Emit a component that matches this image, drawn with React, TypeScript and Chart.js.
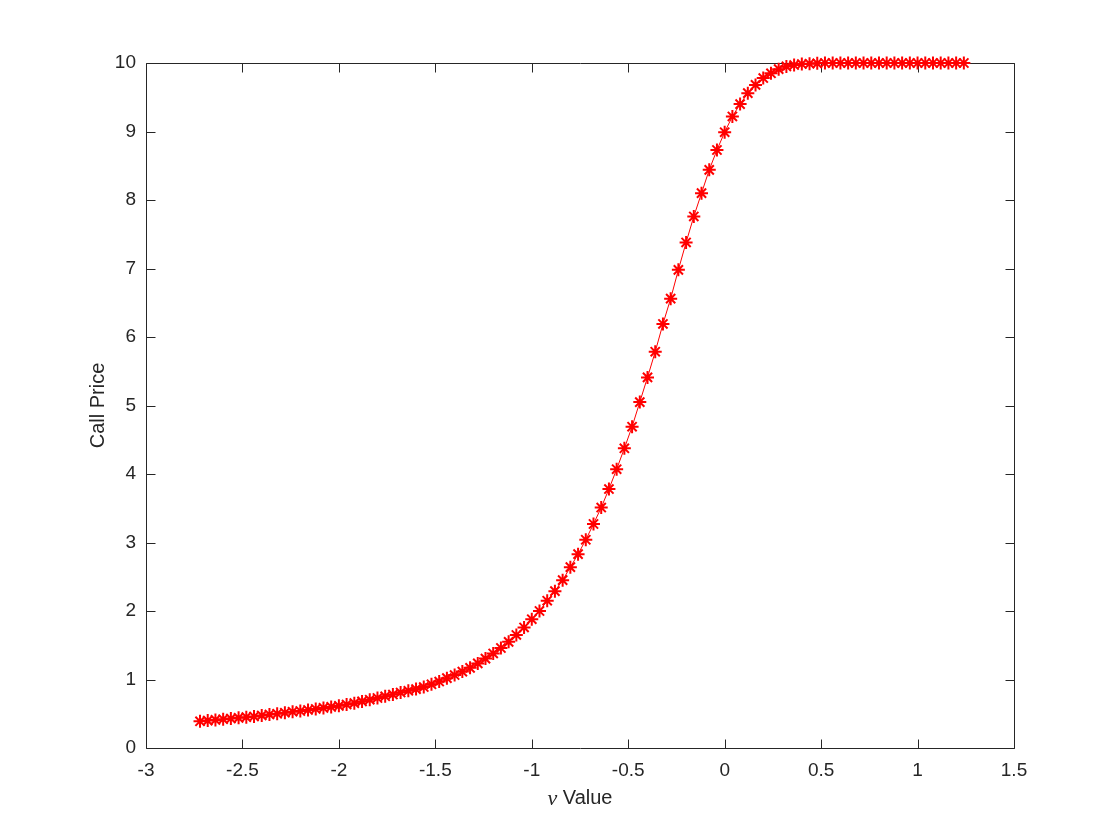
import React, { useEffect, useRef } from "react";
import { Chart, registerables } from "chart.js";

Chart.register(...registerables);

const xValues = [
  -2.72, -2.68, -2.64, -2.6, -2.56, -2.52, -2.48, -2.44, -2.4, -2.36,
  -2.32, -2.28, -2.24, -2.2, -2.16, -2.12, -2.08, -2.04, -2.0, -1.96,
  -1.92, -1.88, -1.84, -1.8, -1.76, -1.72, -1.68, -1.64, -1.6, -1.56,
  -1.52, -1.48, -1.44, -1.4, -1.36, -1.32, -1.28, -1.24, -1.2, -1.16,
  -1.12, -1.08, -1.04, -1.0, -0.96, -0.92, -0.88, -0.84, -0.8, -0.76,
  -0.72, -0.68, -0.64, -0.6, -0.56, -0.52, -0.48, -0.44, -0.4, -0.36,
  -0.32, -0.28, -0.24, -0.2, -0.16, -0.12, -0.08, -0.04, 0.0, 0.04,
  0.08, 0.12, 0.16, 0.2, 0.24, 0.28, 0.32, 0.36, 0.4, 0.44,
  0.48, 0.52, 0.56, 0.6, 0.64, 0.68, 0.72, 0.76, 0.8, 0.84,
  0.88, 0.92, 0.96, 1.0, 1.04, 1.08, 1.12, 1.16, 1.2, 1.24,
];

const callPrices = [
  0.39, 0.4, 0.41, 0.42, 0.43, 0.44, 0.45, 0.46, 0.475, 0.49,
  0.5, 0.515, 0.53, 0.54, 0.555, 0.57, 0.585, 0.6, 0.615, 0.635,
  0.655, 0.68, 0.705, 0.73, 0.755, 0.78, 0.81, 0.835, 0.86, 0.89,
  0.93, 0.97, 1.02, 1.065, 1.115, 1.17, 1.235, 1.305, 1.38, 1.46,
  1.55, 1.65, 1.76, 1.88, 2.0, 2.15, 2.29, 2.45, 2.64, 2.83,
  3.04, 3.27, 3.51, 3.78, 4.07, 4.375, 4.69, 5.05, 5.41, 5.785,
  6.19, 6.56, 6.98, 7.38, 7.76, 8.1, 8.44, 8.73, 8.99, 9.22,
  9.4, 9.56, 9.68, 9.78, 9.85, 9.91, 9.95, 9.97, 9.985, 9.99,
  9.995, 10, 10, 10, 10, 10, 10, 10, 10, 10,
  10, 10, 10, 10, 10, 10, 10, 10, 10, 10,
];

const xTickValues = [-3, -2.5, -2, -1.5, -1, -0.5, 0, 0.5, 1, 1.5];
const yTickValues = [0, 1, 2, 3, 4, 5, 6, 7, 8, 9, 10];
const xAxisSymbol = "\u03BD";
const xAxisWord = " Value";
const yAxisTitle = "Call Price";

const AXIS_COLOR = "#262626";
const FONT_FAMILY = "'Liberation Sans', Arial, Helvetica, sans-serif";
const SERIF_FAMILY = "'Liberation Serif', 'Times New Roman', serif";
const TICK_LEN = 9;

const boxPlugin = {
  id: "matlabBox",
  beforeDatasetsDraw(chart: any) {
    const { ctx, chartArea } = chart;
    const left = Math.round(chartArea.left) + 0.5;
    const right = Math.round(chartArea.right) + 0.5;
    const top = Math.round(chartArea.top) + 0.5;
    const bottom = Math.round(chartArea.bottom) + 0.5;
    const xs = chart.scales.x;
    const ys = chart.scales.y;
    ctx.save();
    ctx.strokeStyle = AXIS_COLOR;
    ctx.lineWidth = 1;
    ctx.beginPath();
    ctx.rect(left, top, right - left, bottom - top);
    xTickValues.forEach((v) => {
      const px = Math.round(xs.getPixelForValue(v)) + 0.5;
      ctx.moveTo(px, bottom);
      ctx.lineTo(px, bottom - TICK_LEN);
      ctx.moveTo(px, top);
      ctx.lineTo(px, top + TICK_LEN);
    });
    yTickValues.forEach((v) => {
      const py = Math.round(ys.getPixelForValue(v)) + 0.5;
      ctx.moveTo(left, py);
      ctx.lineTo(left + TICK_LEN, py);
      ctx.moveTo(right, py);
      ctx.lineTo(right - TICK_LEN, py);
    });
    ctx.stroke();
    ctx.restore();
  },
  afterDraw(chart: any) {
    // x-axis title with an italic serif nu, as in the original
    const { ctx, chartArea } = chart;
    const cx = (chartArea.left + chartArea.right) / 2;
    const cy = chartArea.bottom + 50;
    ctx.save();
    ctx.fillStyle = AXIS_COLOR;
    ctx.textBaseline = "middle";
    const symFont = `italic 22px ${SERIF_FAMILY}`;
    const wordFont = `20px ${FONT_FAMILY}`;
    ctx.font = symFont;
    const w1 = ctx.measureText(xAxisSymbol).width;
    ctx.font = wordFont;
    const w2 = ctx.measureText(xAxisWord).width;
    const start = cx - (w1 + w2) / 2;
    ctx.textAlign = "left";
    ctx.font = symFont;
    ctx.fillText(xAxisSymbol, start, cy + 1);
    ctx.font = wordFont;
    ctx.fillText(xAxisWord, start + w1, cy);
    ctx.restore();
  },
};

const fmt = (v: any) => String(Number(v));

export default function App() {
  const canvasRef = useRef<HTMLCanvasElement | null>(null);

  useEffect(() => {
    const canvas = canvasRef.current;
    if (!canvas) return;
    const points = xValues.map((x, i) => ({ x, y: callPrices[i] }));
    const chart = new Chart(canvas, {
      type: "scatter",
      data: {
        datasets: [
          {
            data: points,
            showLine: true,
            borderColor: "#FF0000",
            borderWidth: 1,
            backgroundColor: "#FF0000",
            pointStyle: "star",
            pointRadius: 6.5,
            pointBorderWidth: 2,
            pointBorderColor: "#FF0000",
            pointBackgroundColor: "#FF0000",
            clip: false,
          } as any,
        ],
      },
      options: {
        responsive: false,
        animation: false,
        events: [],
        layout: { padding: { left: 86, right: 106, top: 63, bottom: 31 } },
        plugins: {
          legend: { display: false },
          tooltip: { enabled: false },
        },
        scales: {
          x: {
            type: "linear",
            min: -3,
            max: 1.5,
            grid: { display: false, drawTicks: false },
            border: { display: false },
            afterBuildTicks: (axis: any) => {
              axis.ticks = xTickValues.map((v) => ({ value: v }));
            },
            afterFit: (axis: any) => {
              axis.height = 61;
            },
            ticks: {
              color: AXIS_COLOR,
              font: { family: FONT_FAMILY, size: 19 },
              padding: 11,
              maxRotation: 0,
              autoSkip: false,
              callback: fmt,
            },
            title: { display: false },
          },
          y: {
            type: "linear",
            min: 0,
            max: 10,
            grid: { display: false, drawTicks: false },
            border: { display: false },
            afterBuildTicks: (axis: any) => {
              axis.ticks = yTickValues.map((v) => ({ value: v }));
            },
            afterFit: (axis: any) => {
              axis.width = 60;
            },
            ticks: {
              color: AXIS_COLOR,
              font: { family: FONT_FAMILY, size: 19 },
              padding: 10,
              autoSkip: false,
              callback: fmt,
            },
            title: {
              display: true,
              text: yAxisTitle,
              color: AXIS_COLOR,
              font: { family: FONT_FAMILY, size: 20 },
              padding: 0,
            },
          },
        },
      },
      plugins: [boxPlugin],
    });
    return () => chart.destroy();
  }, []);

  return (
    <div style={{ position: "absolute", left: 0, top: 0, width: 1120, height: 840, background: "#fff" }}>
      <canvas ref={canvasRef} width={1120} height={840} style={{ display: "block", width: 1120, height: 840 }} />
    </div>
  );
}
